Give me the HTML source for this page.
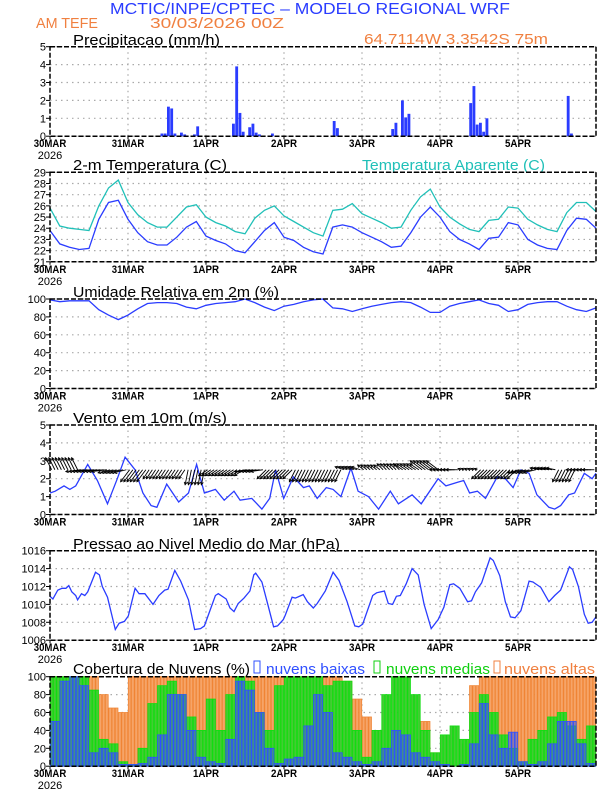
<!DOCTYPE html>
<html><head><meta charset="utf-8"><style>
html,body{margin:0;padding:0;background:#fff}
svg{display:block;font-family:"Liberation Sans",sans-serif}
</style></head><body>
<svg id="chart" width="612" height="792" viewBox="0 0 612 792" xmlns="http://www.w3.org/2000/svg">
<text x="110" y="14" font-size="16" fill="#2a3cff" textLength="400" lengthAdjust="spacingAndGlyphs">MCTIC/INPE/CPTEC – MODELO REGIONAL WRF</text>
<text x="36" y="28" font-size="15" fill="#f08040" textLength="62" lengthAdjust="spacingAndGlyphs">AM TEFE</text>
<text x="150" y="28" font-size="15" fill="#f08040" textLength="134" lengthAdjust="spacingAndGlyphs">30/03/2026 00Z</text>
<text x="364" y="44" font-size="15" fill="#f08040" textLength="184" lengthAdjust="spacingAndGlyphs">64.7114W 3.3542S 75m</text>
<text x="73" y="45" font-size="15" fill="#000" textLength="147" lengthAdjust="spacingAndGlyphs">Precipitacao (mm/h)</text>
<text x="73" y="170" font-size="15" fill="#000" textLength="154" lengthAdjust="spacingAndGlyphs">2-m Temperatura (C)</text>
<text x="362" y="170" font-size="15" fill="#20c0b8" textLength="183" lengthAdjust="spacingAndGlyphs">Temperatura Aparente (C)</text>
<text x="73" y="297" font-size="15" fill="#000" textLength="206" lengthAdjust="spacingAndGlyphs">Umidade Relativa em 2m (%)</text>
<text x="73" y="423" font-size="15" fill="#000" textLength="154" lengthAdjust="spacingAndGlyphs">Vento em 10m (m/s)</text>
<text x="73" y="549" font-size="15" fill="#000" textLength="267" lengthAdjust="spacingAndGlyphs">Pressao ao Nivel Medio do Mar (hPa)</text>
<text x="73" y="674" font-size="15" fill="#000" textLength="177" lengthAdjust="spacingAndGlyphs">Cobertura de Nuvens (%)</text>
<rect x="254" y="661" width="6" height="12" fill="none" stroke="#3050ff"/>
<text x="266" y="674" font-size="15" fill="#3050ff" textLength="99" lengthAdjust="spacingAndGlyphs">nuvens baixas</text>
<rect x="374" y="661" width="6" height="12" fill="none" stroke="#10d010"/>
<text x="386" y="674" font-size="15" fill="#10d010" textLength="104" lengthAdjust="spacingAndGlyphs">nuvens medias</text>
<rect x="494" y="661" width="6" height="12" fill="none" stroke="#f08040"/>
<text x="504" y="674" font-size="15" fill="#f08040" textLength="91" lengthAdjust="spacingAndGlyphs">nuvens altas</text>
<g id="layer"></g>
</svg>
<script>
const days=["30MAR","31MAR","1APR","2APR","3APR","4APR","5APR"];
const precipHours=[34,35,36,37,38,40,41,44,45,56,57,58,59,61,62,63,64,68,87,88,105,106,108,109,110,129,130,131,132,133,134,159,160];
const precipVals=[0.15,0.15,1.65,1.55,0.15,0.2,0.1,0.1,0.55,0.7,3.9,1.3,0.25,0.5,0.7,0.2,0.1,0.15,0.85,0.45,0.4,0.75,2.0,1.05,1.25,1.85,2.8,0.65,0.75,0.25,1.0,2.25,0.15];
const tHours=[0,3,6,9,12,15,18,21,24,27,30,33,36,39,42,45,48,51,54,57,60,63,66,69,72,75,78,81,84,87,90,93,96,99,102,105,108,111,114,117,120,123,126,129,132,135,138,141,144,147,150,153,156,159,162,165,168];
const temp=[23.8,22.6,22.3,22.1,22.2,24.8,26.3,26.5,24.8,23.6,22.8,22.5,22.5,23.2,24.1,24.6,23.3,22.9,22.6,22.0,21.8,22.8,23.8,24.5,23.2,22.9,22.3,21.9,21.7,24.1,24.3,24.1,23.6,23.2,22.8,22.3,22.4,23.6,25.0,25.9,25.0,23.7,23.0,22.6,22.1,23.1,23.2,24.5,24.3,23.0,22.5,22.2,22.1,23.8,24.9,24.8,24.0];
const tempApp=[25.8,24.2,24.0,23.9,23.8,26.0,27.6,28.3,26.3,25.2,24.5,24.1,24.1,25.0,25.9,26.1,25.0,24.5,24.2,23.7,23.5,24.9,25.6,26.0,25.1,24.6,24.1,23.6,23.3,25.6,25.7,26.2,25.3,24.9,24.5,24.0,24.1,25.6,26.8,27.5,25.9,25.0,24.4,23.9,23.7,24.7,24.8,25.9,25.8,24.8,24.3,23.9,23.7,25.4,26.3,26.3,25.5];
const rh=[99,97,98,98,98,88,82,77,82,89,95,96,96,95,91,89,93,95,96,97,100,96,91,87,92,94,97,99,100,90,89,86,89,92,94,96,97,96,91,85,85,92,95,97,99,95,93,86,88,94,96,97,97,92,88,86,90];
const windHours=[0,1.6,4.3,6.1,7.9,11.6,14.6,17.7,20.7,23.1,26.2,28.6,31.1,32.9,35.9,39.6,42.6,45.1,47.5,50.9,53.6,56.6,58.5,62.1,65.2,67.6,69.4,71.9,74.9,78,79.8,82.2,85,87.1,89.5,92.6,94.8,98,101.1,104.7,107.2,111.4,114.2,119.4,121.8,125.4,127.3,129.1,131.5,134,137.6,140.1,142.5,144.9,147.4,149.8,153.5,155.3,157.1,159.6,161.4,164.4,166.8,168];
const windSpeed=[1.2,1.3,1.6,1.4,1.6,2.8,1.9,0.6,2.0,3.2,2.5,1.2,0.5,0.4,1.7,0.7,1.2,2.8,1.2,1.4,0.8,1.3,0.8,0.9,0.3,0.9,2.5,0.9,2.1,1.5,1.6,0.9,1.5,1.4,1.0,2.6,1.3,1.0,0.3,1.3,0.6,1.1,0.6,2.0,1.6,1.8,1.9,1.2,1.3,0.9,2.1,2.0,1.5,2.5,2.3,1.1,0.4,0.3,0.5,1.1,1.2,2.3,2.0,2.3];
const arrowU=[-1,-1,-1,-2.5,-2.5,-2.5,-2,-2,-1.5,-1.5,-1,-1,-1,-1,-0.5,-0.5,-1.5,-1.5,-1.5,-1.5,-2,-2,-1.5,-1.5,-1.5,-1,-1,-1,-1,-1,-1.5,-1.5,-1,-1,-1,-1,-1.5,-1.5,-2,-2,-2,-2,-0.5,-0.5,-1.5,-1.5,-1.5,-1.5,-2,-2,-1.5,-1.5,-1,-1,-2,-2];
const arrowV=[2,2,2,-0.3,-0.3,-0.3,-0.5,-0.5,-2,-2,-1.5,-1.5,-1.5,-1.5,-2.5,-2.5,-1,-1,-1,-1,-0.3,-0.3,-1.5,-1.5,-1.5,-2,-2,-2,-2,-2,0.5,0.5,0.8,0.8,1,1,1,1,1.5,1.5,0,0,0.2,0.2,-1.5,-1.5,-1.5,-1.5,-0.5,-0.5,0.3,0.3,-2,-2,0,0];
const pHours=[0,0.9,2.4,3.7,4.9,5.8,6.7,7.9,8.5,9.7,10.7,11.6,14,15.2,16.1,17.7,20.1,21.3,22.9,24.1,26.2,27.4,29.2,31.7,33.5,35.3,36.3,38.4,40.2,42.6,44.5,46.3,47.5,50.9,51.8,54.2,55.4,56.6,57.9,59.7,61.5,62.7,63.3,65.2,67,68.8,70,71.8,72.4,74.5,75.5,77.9,79.2,81,82.2,84.7,87.1,88.9,91.4,93.8,95,96.2,99.3,100.5,102.9,104.1,105.4,106.6,107.8,109.6,111.4,113.3,115.1,117.3,119.4,121.2,123,124.2,126.1,128.5,129.7,130.9,132.8,135.4,136.4,138.4,140.1,141.7,143.1,144.9,147.4,148.6,151,153.5,155.3,157.1,159.8,160.8,162.6,164.4,165.6,166.8,168];
const pressure=[1010.9,1010.6,1011.6,1011.8,1011.8,1012.1,1011.4,1011.0,1010.5,1011.2,1011.0,1011.4,1013.6,1013.3,1012.0,1010.8,1007.2,1007.9,1008.1,1008.7,1011.8,1011.2,1011.2,1010.0,1011.0,1011.6,1011.7,1013.8,1012.6,1010.5,1007.2,1007.3,1007.6,1011.0,1011.2,1010.6,1009.6,1009.2,1010.1,1010.7,1011.5,1013.3,1013.5,1012.5,1010.0,1007.5,1007.6,1008.3,1008.8,1010.8,1010.7,1011.1,1010.3,1009.6,1010.1,1011.5,1013.6,1012.7,1010.3,1007.6,1007.5,1007.8,1011.0,1011.3,1011.5,1010.1,1010.0,1010.9,1011.0,1012.3,1014.0,1013.3,1010.0,1007.3,1008.3,1009.7,1012.2,1012.3,1011.8,1010.3,1010.4,1011.4,1012.4,1015.2,1014.9,1013.2,1010.3,1008.6,1008.5,1009.3,1012.6,1012.5,1011.9,1010.3,1011.0,1011.6,1014.2,1013.9,1012.0,1008.9,1007.9,1008.0,1008.6];
const cloudHigh=[100,100,100,100,100,80,65,60,100,100,100,100,100,100,100,100,100,100,100,100,100,100,100,100,100,100,100,100,100,100,95,75,55,40,20,10,5,30,50,15,0,0,25,90,100,100,100,100,100,100,100,100,100,100,100,100];
const cloudMid=[100,100,100,100,85,30,25,5,2,20,70,90,95,80,55,40,75,40,80,100,95,60,40,90,100,100,100,100,90,95,95,40,10,40,80,100,100,80,40,15,35,45,30,60,80,60,35,20,5,30,40,55,60,45,30,45];
const cloudLow=[50,95,100,90,15,20,15,2,2,3,10,35,80,80,40,10,5,3,30,95,85,60,20,3,8,10,45,80,60,15,10,5,2,5,20,40,35,15,10,5,2,0,2,25,70,35,20,38,5,2,5,25,50,50,25,3];

const NS="http://www.w3.org/2000/svg";
const layer=document.getElementById('layer');
const L=50,R=596,H=89.5;
const xh=h=>L+h*(R-L)/168;
function mk(tag,attrs,parent){const e=document.createElementNS(NS,tag);for(const k in attrs)e.setAttribute(k,attrs[k]);(parent||layer).appendChild(e);return e;}
function panel(name,top,min,max,ticks){
  const g=mk('g',{});
  
  
  const y=v=>top+H-(v-min)/(max-min)*H;
  ticks.forEach(t=>{
    const gl=mk('line',{x1:L,x2:R,y1:y(t),y2:y(t),stroke:'#aaa','stroke-width':1.2,'stroke-dasharray':'1.5 4'},g);
    
    
    const tk=mk('line',{x1:L-4,x2:L,y1:y(t),y2:y(t),stroke:'#000'},g);
    
    
    const tl=mk('text',{x:L-4,y:y(t)+4,'font-size':11,'text-anchor':'end',fill:'#000'},g);
    tl.textContent=t;
    
    
  });
  days.forEach((d,i)=>{
    const x=xh(i*24);
    if(i>0){const vl=mk('line',{x1:x,x2:x,y1:top,y2:top+H,stroke:'#aaa','stroke-width':1.2,'stroke-dasharray':'1.5 4'},g);
      
      }
    const tk=mk('line',{x1:x,x2:x,y1:top+H,y2:top+H+3,stroke:'#000'},g);
    
    
    const tl=mk('text',{x:x,y:top+H+11,'font-size':11,'font-weight':'bold','text-anchor':'middle',fill:'#000',textLength:d.length*6.5,lengthAdjust:'spacingAndGlyphs'},g);
    tl.textContent=d;
    
    
  });
  if(name!=='wind'){
  const yr=mk('text',{x:L,y:top+H+23,'font-size':11,'text-anchor':'middle',fill:'#000'},g);
  yr.textContent='2026';
  
  }
  return {g,y,top};
}
function frame(p,name){
  const f=mk('rect',{x:L,y:p.top,width:R-L,height:H,fill:'none',stroke:'#000','stroke-width':1.5,'stroke-dasharray':'5 2'},p.g);
  
  
}
function line(p,hs,vs,color,name){
  const pts=hs.map((h,i)=>xh(h).toFixed(1)+','+p.y(vs[i]).toFixed(1)).join(' ');
  const pl=mk('polyline',{points:pts,fill:'none',stroke:color,'stroke-width':1.3},p.g);
  
  
}
// precipitation
const pp=panel('precip',46.7,0,5,[0,1,2,3,4,5]);
precipHours.forEach((h,i)=>{
  const b=mk('rect',{x:xh(h),y:pp.y(precipVals[i]),width:(R-L)/168-0.4,height:pp.y(0)-pp.y(precipVals[i]),fill:'#2a3cff'},pp.g);
  
  
});
frame(pp,'precip');
// temperature
const tp=panel('temp',172.3,21,29,[21,22,23,24,25,26,27,28,29]);
line(tp,tHours,tempApp,'#20c0b8','apparent-temp-line');
line(tp,tHours,temp,'#2a3cff','temp-line');
frame(tp,'temp');
// RH
const rp=panel('rh',299,0,100,[0,20,40,60,80,100]);
line(rp,tHours,rh,'#2a3cff','rh-line');
frame(rp,'rh');
// wind
const wp=panel('wind',425,0,5,[0,1,2,3,4,5]);
line(wp,windHours,windSpeed,'#2a3cff','wind-speed-line');
const base=wp.y(2.5);
arrowU.forEach((u,i)=>{
  for(let s=0;s<3;s++){
  const x=xh(i*3+s+0.5), k=6;
  const x2=x+u*k, y2=base-arrowV[i]*k;
  const a=mk('line',{x1:x,y1:base,x2:x2,y2:y2,stroke:'#000','stroke-width':0.9},wp.g);
  
  
  const ang=Math.atan2(y2-base,x2-x);
  const hd=mk('polyline',{points:`${x2-3*Math.cos(ang-0.5)},${y2-3*Math.sin(ang-0.5)} ${x2},${y2} ${x2-3*Math.cos(ang+0.5)},${y2-3*Math.sin(ang+0.5)}`,fill:'none',stroke:'#000','stroke-width':0.9},wp.g);
  
  
  }
});
frame(wp,'wind');
// pressure
const prp=panel('pressure',550.7,1006,1016,[1006,1008,1010,1012,1014,1016]);
line(prp,pHours,pressure,'#2a3cff','pressure-line');
frame(prp,'pressure');
// clouds
const cp=panel('cloud',676.7,0,100,[0,20,40,60,80,100]);
const hw=(R-L)/168;
function cbars(arr,fill,stroke,name){
  arr.forEach((v,i)=>{
    if(v<=0)return;
    for(let s=0;s<3;s++){
    const b=mk('rect',{x:xh(i*3+s)+0.3,y:cp.y(v),width:hw-0.6,height:cp.y(0)-cp.y(v),fill:fill,stroke:stroke,'stroke-width':0.8},cp.g);
    
    
    }
  });
}
cbars(cloudHigh,'#f6a468','#f08535','high-cloud-bar');
cbars(cloudMid,'#44cc33','#10dd10','mid-cloud-bar');
cbars(cloudLow,'rgba(60,90,220,0.55)','#3050ff','low-cloud-bar');
frame(cp,'cloud');
</script>
</body></html>
